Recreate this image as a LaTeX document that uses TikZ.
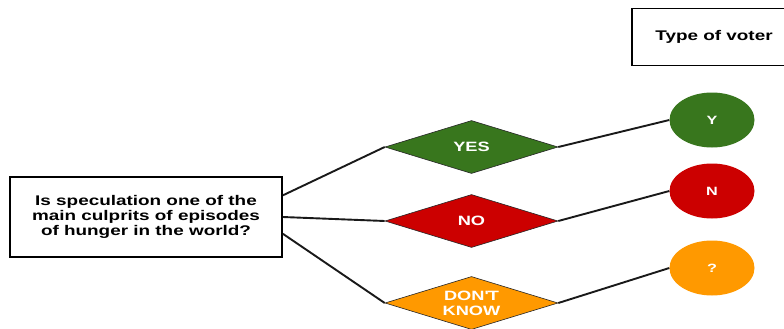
\documentclass[tikz,border=0pt]{standalone}
\usepackage{fontspec}
\setmainfont[FakeStretch=1.35]{Liberation Sans}
\usetikzlibrary{shapes.geometric}
\definecolor{yesgreen}{HTML}{38761D}
\definecolor{nored}{HTML}{CC0000}
\definecolor{dkorange}{HTML}{FF9900}
\tikzset{
  box/.style={draw=black, line width=1.8pt, fill=white, align=center, inner sep=0pt,
    font=\bfseries\fontsize{14}{15}\selectfont},
  answer/.style={diamond, draw=black!85, line width=0.6pt, inner sep=0pt, aspect=3.26,
    minimum width=173pt, minimum height=53pt, text=white, align=center,
    font=\bfseries\fontsize{13.5}{15}\selectfont},
  voter/.style={ellipse, inner sep=0pt, minimum width=85pt, minimum height=55pt,
    text=white, font=\bfseries\fontsize{12}{14}\selectfont},
  link/.style={line width=1.9pt, black!90}
}
\begin{document}
\begin{tikzpicture}[x=1pt,y=-1pt]
  \clip (0,0) rectangle (784,329);
  \fill[white] (0,0) rectangle (784,329);

  % question and legend boxes
  \node[box, minimum width=272pt, minimum height=80pt] (q) at (146,217)
    {Is speculation one of the\\main culprits of episodes\\of hunger in the world?};
  \node[box, minimum width=164pt, minimum height=57pt] (legend) at (714,37)
    {Type of voter};

  % answer diamonds
  \node[answer, fill=yesgreen] (yes) at (471.5,147) {YES};
  \node[answer, fill=nored] (no) at (471.5,221) {NO};
  \node[answer, fill=dkorange] (dk) at (471.5,303) {DON\textquotesingle T\\KNOW};

  % voter types
  \node[voter, fill=yesgreen] (vy) at (712,120) {Y};
  \node[voter, fill=nored] (vn) at (712,191) {N};
  \node[voter, fill=dkorange] (vq) at (712,268) {?};

  % connectors
  \draw[link] (q.9) -- (yes.west);
  \draw[link] (q.east) -- (no.west);
  \draw[link] (q.-7.5) -- (dk.west);
  \draw[link] (yes.east) -- (vy.west);
  \draw[link] (no.east) -- (vn.west);
  \draw[link] (dk.east) -- (vq.west);
\end{tikzpicture}
\end{document}
